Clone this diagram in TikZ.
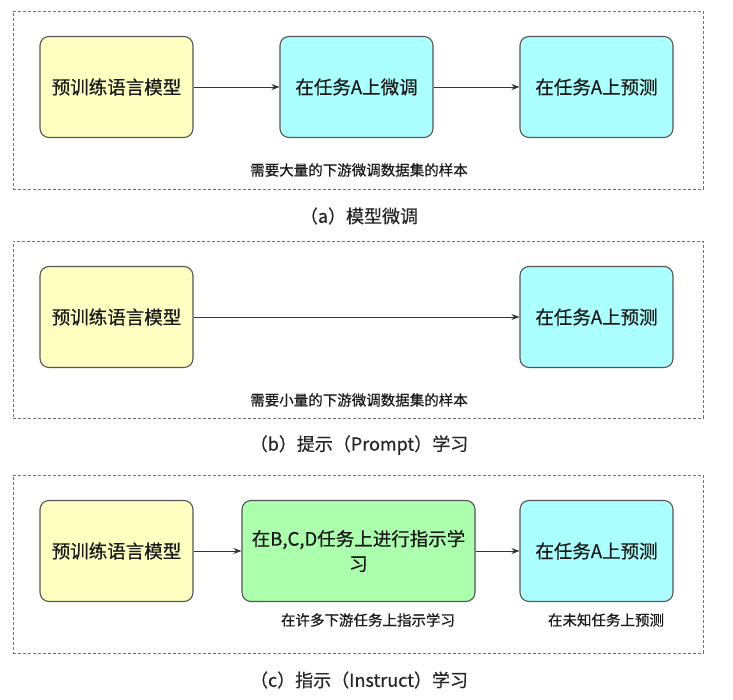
\documentclass[tikz,border=0pt]{standalone}
\usepackage{fontspec}
\setmainfont{Noto Sans CJK SC}[FakeBold=0.5]
\usetikzlibrary{arrows.meta}
\definecolor{yel}{HTML}{FFFFC2}
\definecolor{cya}{HTML}{ABFFFF}
\definecolor{grn}{HTML}{ABFFAD}
\definecolor{bord}{HTML}{555555}
\tikzset{
  boxnode/.style={draw=bord, line width=1.1pt, rounded corners=9pt, minimum height=101pt,
    inner sep=2pt, font=\fontsize{18.5}{25}\selectfont, text=black!90, align=center},
  ybox/.style={boxnode, fill=yel, minimum width=153pt},
  cbox/.style={boxnode, fill=cya, minimum width=153pt},
  gbox/.style={boxnode, fill=grn, minimum width=233pt},
  panel/.style={draw=black!55, line width=0.9pt, dash pattern=on 3pt off 2pt},
  note/.style={font=\fontsize{14.5}{18}\selectfont, text=black!90, inner sep=0pt},
  caption/.style={font=\fontsize{18}{22}\selectfont, text=black!85, inner sep=0pt},
  conn/.style={draw=black!80, line width=0.9pt, -{Stealth[length=8pt,width=6pt]}}
}
\begin{document}
\begin{tikzpicture}[x=1pt,y=-1pt]
\useasboundingbox[fill=white] (0,0) rectangle (733,700);
% panel (a)
\node[panel, minimum width=690pt, minimum height=178pt, inner sep=0pt] (pa) at (358,100) {};
\node[ybox] (a1) at (116.5,87) {预训练语言模型};
\node[cbox] (a2) at (356.5,87) {在任务A上微调};
\node[cbox] (a3) at (596.5,87) {在任务A上预测};
\draw[conn] (a1) -- (a2);
\draw[conn] (a2) -- (a3);
\node[note] (an) at (359,170) {需要大量的下游微调数据集的样本};
\node[caption] (ac) at (359,216) {（a）模型微调};
% panel (b)
\node[panel, minimum width=690pt, minimum height=177pt, inner sep=0pt] (pb) at (358,329.5) {};
\node[ybox] (b1) at (116.5,317) {预训练语言模型};
\node[cbox] (b3) at (596.5,317) {在任务A上预测};
\draw[conn] (b1) -- (b3);
\node[note] (bn) at (359,400) {需要小量的下游微调数据集的样本};
\node[caption] (bc) at (359,445) {（b）提示（Prompt）学习};
% panel (c)
\node[panel, minimum width=690pt, minimum height=178pt, inner sep=0pt] (pc) at (358,564) {};
\node[ybox] (c1) at (116.5,551) {预训练语言模型};
\node[gbox] (c2) at (358.5,551) {在B,C,D任务上进行指示学\\习};
\node[cbox] (c3) at (596.5,551) {在任务A上预测};
\draw[conn] (c1) -- (c2);
\draw[conn] (c2) -- (c3);
\node[note] (cn1) at (368,620) {在许多下游任务上指示学习};
\node[note] (cn2) at (606,620) {在未知任务上预测};
\node[caption] (cc) at (359,680) {（c）指示（Instruct）学习};
\end{tikzpicture}
\end{document}
